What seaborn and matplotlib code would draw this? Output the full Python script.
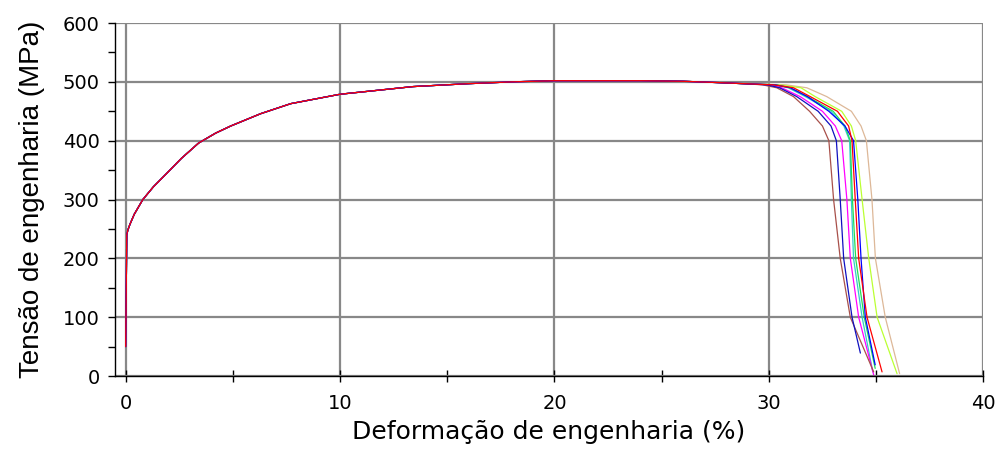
import numpy as np
import pandas as pd
import seaborn as sns
import matplotlib.pyplot as plt
from matplotlib.ticker import MultipleLocator

# parte uniforme (comum a todos os corpos de prova)
def_base = [0.0, 0.05, 0.1, 0.2, 0.4, 0.8, 1.3, 1.9, 2.6, 3.4, 4.2, 4.9, 6.3,
            7.7, 10.0, 13.4, 16.0, 18.0, 20.0, 22.0, 24.0, 26.0, 27.5, 28.8]
ten_base = [50, 240, 248, 258, 275, 300, 322, 344, 370, 396, 413, 425, 446,
            463, 479, 492, 497, 500, 502, 502, 502, 501, 499, 497]

# estricção e fratura de cada corpo de prova
ten_cauda = [495, 490, 475, 450, 425, 400, 300, 200, 100]
cp_nomes = ['CP1', 'CP2', 'CP3', 'CP4', 'CP5', 'CP6', 'CP7', 'CP8', 'CP9']
cp_cores = ['#DDB898', '#BBFF33', '#33CCCC', '#22DD55', '#FF00FF',
            '#A8504A', '#1010C0', '#0000FF', '#FF0000']
def_cauda = [
    [30.8, 31.77, 32.7, 33.85, 34.3, 34.55, 34.81, 34.97, 35.43],   # tan
    [30.5, 31.5, 32.16, 33.4, 33.85, 34.05, 34.35, 34.66, 35.05],   # verde-amarelo
    [30.2, 30.9, 31.7, 32.9, 33.5, 33.77, 33.85, 33.95, 34.35],     # ciano
    [30.3, 31.0, 31.8, 33.0, 33.55, 33.8, 33.9, 34.05, 34.45],      # verde
    [30.0, 30.6, 31.46, 32.5, 33.1, 33.4, 33.64, 33.8, 34.19],      # magenta
    [29.7, 30.37, 31.15, 31.9, 32.5, 32.8, 33.02, 33.33, 33.8],     # marrom
    [29.9, 30.5, 31.3, 32.3, 32.9, 33.15, 33.33, 33.49, 33.88],     # azul escuro
    [30.3, 31.0, 31.8, 32.8, 33.55, 33.95, 34.15, 34.3, 34.5],      # azul
    [30.2, 31.15, 31.93, 33.2, 33.72, 33.88, 34.03, 34.19, 34.58],  # vermelho
]
def_fim = [36.1, 35.98, 34.85, 34.96, 34.89, 34.89, 34.27, 34.96, 35.28]
ten_fim = [4, 4, 7, 13, 2, 7, 39, 19, 7]

linhas = []
for nome, dc, df_, tf in zip(cp_nomes, def_cauda, def_fim, ten_fim):
    xs = def_base + dc + [df_]
    ys = ten_base + ten_cauda + [tf]
    for x, y in zip(xs, ys):
        linhas.append({'cp': nome, 'def': x, 'ten': y})
df = pd.DataFrame(linhas)

sns.set_theme(style='white')
plt.rcParams['font.family'] = ['DejaVu Sans']

fig = plt.figure(figsize=(9.98, 4.62), dpi=100)
ax = fig.add_axes([0.1152, 0.1861, 0.870, 0.764])

sns.lineplot(data=df, x='def', y='ten', hue='cp', palette=cp_cores,
             sort=False, estimator=None, linewidth=0.9, legend=False, ax=ax)

ax.set_xlim(-0.5, 40)
ax.set_ylim(0, 600)
ax.xaxis.set_major_locator(MultipleLocator(10))
ax.xaxis.set_minor_locator(MultipleLocator(5))
ax.yaxis.set_major_locator(MultipleLocator(100))
ax.yaxis.set_minor_locator(MultipleLocator(50))

ax.grid(True, which='major', color='#888888', linewidth=1.6)
ax.set_axisbelow(True)

for s in ['top', 'right']:
    ax.spines[s].set_visible(False)
for s in ['left', 'bottom']:
    ax.spines[s].set_color('black')
    ax.spines[s].set_linewidth(1.0)

ax.tick_params(axis='x', which='both', direction='inout', length=8, width=1,
               color='black', labelcolor='black', labelsize=14, pad=9,
               bottom=True)
ax.tick_params(axis='y', which='both', direction='out', length=5, width=1,
               color='black', labelcolor='black', labelsize=14, pad=6,
               left=True)

ax.set_xlabel('Deformação de engenharia (%)', fontsize=18, labelpad=5,
              color='black')
ax.set_ylabel('Tensão de engenharia (MPa)', fontsize=20, labelpad=13,
              family='Liberation Sans', color='black')

fig.canvas.draw()
ax.yaxis.get_gridlines()[-1].set_visible(False)
ax.xaxis.get_gridlines()[-1].set_visible(False)

fig.savefig('out.png', dpi=100)
